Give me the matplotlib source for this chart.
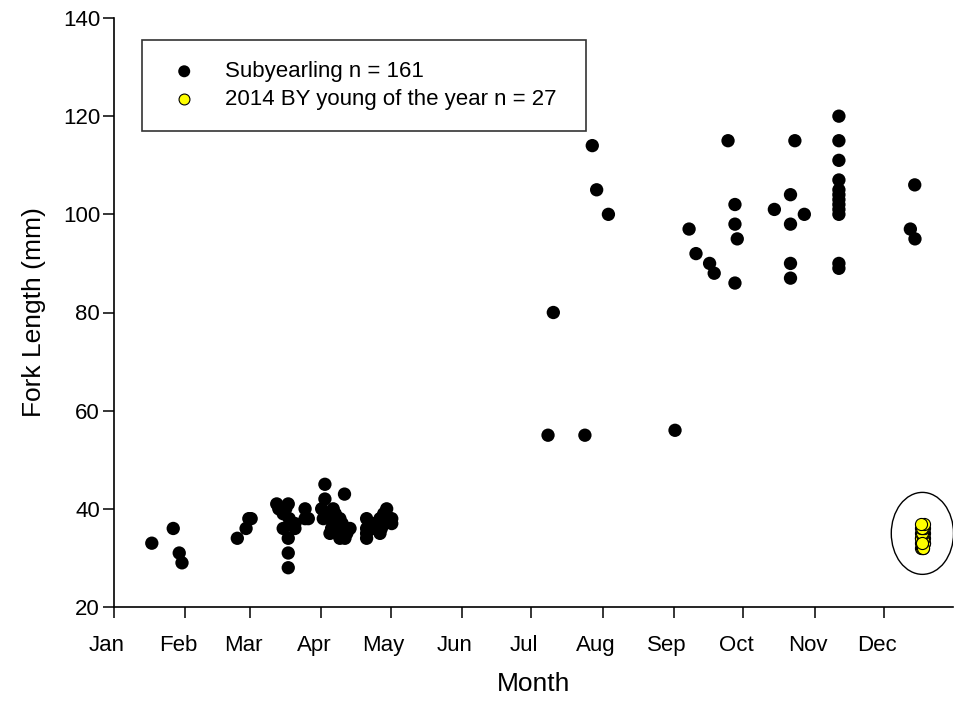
import matplotlib
matplotlib.use("Agg")
import matplotlib.pyplot as plt
import matplotlib.transforms as mtransforms
from matplotlib.patches import Ellipse
import numpy as np

plt.rcParams["font.family"] = ["Liberation Sans", "DejaVu Sans"]

# Month axis: day-of-year at the first of each month
month_labels = ["Jan", "Feb", "Mar", "Apr", "May", "Jun",
                "Jul", "Aug", "Sep", "Oct", "Nov", "Dec"]
month_starts = [0, 31, 59, 90, 120, 151, 181, 212, 243, 273, 304, 334]

# Subyearling captures: day of year and fork length (mm)
sub_day = [
    16.4, 25.7, 28.3, 29.5,
    53.5, 57.3, 58.5, 59.5,
    70.6, 71.5, 75.6, 74.5, 73.4, 73.4, 75.6, 75.6, 75.6, 78.5, 78.5,
    82.9, 84.3, 82.9, 76.0,
    91.5, 91.5, 90.1, 90.8, 95.1, 93.7, 93.7, 94.4, 96.6, 96.6, 98.0,
    98.0, 99.5, 100.0, 100.2, 101.0, 102.4, 95.1, 97.0, 99.0, 92.0, 96.0,
    109.6, 109.6, 109.6, 109.6, 112.0, 115.4, 115.4, 115.4, 116.0, 118.3,
    118.3, 120.5, 120.5, 113.0, 117.0,
    188.3, 190.6, 204.3, 207.5, 209.4, 214.5,
    243.4, 249.5, 252.5, 258.4, 260.4,
    266.4, 269.4, 269.4, 270.4, 269.4,
    286.5, 293.5, 293.5, 295.4, 299.5, 293.5, 293.5,
    314.5, 314.5, 314.5, 314.5, 314.5, 314.5, 314.5, 314.5, 314.5, 314.5,
    314.5, 314.5,
    345.5, 347.4, 347.5,
]
sub_fl = [
    33, 36, 31, 29,
    34, 36, 38, 38,
    41, 40, 41, 40, 39, 36, 34, 31, 28, 36, 37,
    40, 38, 38, 38,
    45, 42, 40, 38, 40, 38, 35, 36, 36, 38, 38,
    34, 36, 43, 34, 35, 36, 37, 35, 37, 39, 39,
    38, 36, 35, 34, 37, 37, 35, 38, 36, 40,
    38, 38, 37, 36, 39,
    55, 80, 55, 114, 105, 100,
    56, 97, 92, 90, 88,
    115, 102, 98, 95, 86,
    101, 104, 98, 115, 100, 90, 87,
    120, 115, 111, 107, 105, 104, 103, 102, 101, 100,
    90, 89,
    97, 106, 95,
]

# 2014 brood-year young of the year, all sampled in late December
yoy_day = [350.0, 351.0, 350.5, 351.5, 350.0, 351.0, 350.5, 351.5, 350.0,
           351.0, 350.5, 351.5, 350.0, 351.0, 350.5, 351.5, 350.0, 351.0,
           350.5, 351.5, 350.0, 351.0, 350.5, 351.5, 350.0, 351.0, 350.5]
yoy_fl = [32, 32, 32, 33, 33, 33, 33, 33, 34, 34, 34, 34, 34, 34,
          35, 35, 35, 35, 35, 36, 36, 36, 36, 37, 37, 32, 33]

sub_label = "Subyearling n = 161"
yoy_label = "2014 BY young of the year n = 27"

fig = plt.figure(figsize=(9.56, 7.04), dpi=100)
ax = fig.add_axes([114 / 956, 97 / 704, 839 / 956, 589 / 704])

ax.scatter(sub_day, sub_fl, s=92, c="black", edgecolors="none",
           label=sub_label, zorder=3)
ax.scatter(yoy_day, yoy_fl, s=76, c="#ffff00", edgecolors="black",
           linewidths=0.8, label=yoy_label, zorder=4)

# Ring around the young-of-the-year group
cx = float(np.mean(yoy_day))
cy = (min(yoy_fl) + max(yoy_fl)) / 2 + 0.5
ax.add_patch(Ellipse((cx, cy), width=27, height=16.7, fill=False,
                     edgecolor="black", linewidth=1.0, zorder=2))

ax.set_xlim(0, 364)
ax.set_ylim(20, 140)
ax.set_xticks(month_starts)
ax.set_xticklabels(month_labels)
ax.set_yticks(np.arange(20, 141, 20))

for side in ("top", "right"):
    ax.spines[side].set_visible(False)
for side in ("left", "bottom"):
    ax.spines[side].set_linewidth(1.2)

ax.tick_params(axis="both", direction="out", length=8, width=1.1,
               labelsize=16, colors="black")
ax.tick_params(axis="x", pad=12)
ax.tick_params(axis="y", pad=2)

shift = mtransforms.ScaledTranslation(-7 / 100, 0, fig.dpi_scale_trans)
for lbl in ax.get_xticklabels():
    lbl.set_transform(lbl.get_transform() + shift)

ax.set_xlabel("Month", fontsize=19, labelpad=12)
ax.set_ylabel("Fork Length (mm)", fontsize=19, labelpad=12)

# Legend box spans a fixed width in the upper-left corner
leg = ax.legend(loc="upper left",
                bbox_to_anchor=(28 / 839, 478 / 589, 444 / 839, 89 / 589),
                mode="expand", borderaxespad=0, fontsize=16, frameon=True,
                fancybox=False, borderpad=0.95, handlelength=1.9,
                handletextpad=0.9, labelspacing=0.3, scatterpoints=1,
                markerscale=0.9)
leg.get_frame().set_edgecolor("black")
leg.get_frame().set_linewidth(1.2)

fig.savefig("out.png", dpi=100)
